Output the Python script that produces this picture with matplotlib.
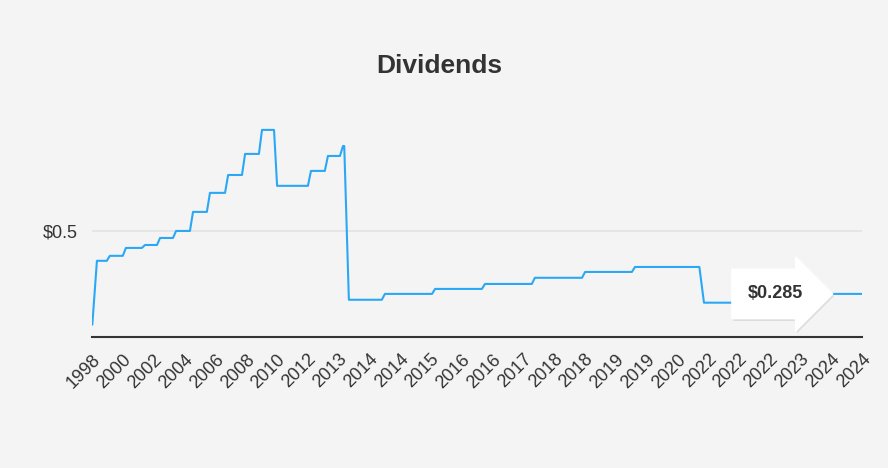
import matplotlib.pyplot as plt

plt.rcParams['font.family'] = ['Liberation Sans', 'DejaVu Sans']

labels = ["1998", "2000", "2002", "2004", "2006", "2008", "2010", "2012", "2013",
          "2014", "2014", "2015", "2016", "2016", "2017", "2018", "2018", "2019",
          "2019", "2020", "2022", "2022", "2022", "2023", "2024", "2024"]

# step start positions (category index units) and dividend values
step_x = [0.0, 0.16, 0.58, 1.10, 1.72, 2.21, 2.73, 3.28, 3.83, 4.42, 4.97, 5.52,
          6.01, 7.11, 7.66, 8.15, 8.34, 9.51, 11.14, 12.76, 14.38, 16.01, 17.63,
          19.87, 21.2, 25.0]
step_y = [0.18, 0.398, 0.415, 0.442, 0.452, 0.476, 0.50, 0.565, 0.63, 0.691, 0.763,
          0.845, 0.654, 0.705, 0.756, 0.79, 0.265, 0.285, 0.302, 0.319, 0.340,
          0.360, 0.377, 0.255, 0.285, 0.285]
last_value = 0.285

bg = "#f4f4f4"
fig = plt.figure(figsize=(8.88, 4.68), dpi=100, facecolor=bg)
ax = fig.add_axes([0.1036, 0.28, 0.8671, 0.485], facecolor=bg)

# build slightly sloped steps like the original
xs, ys = [], []
for i, (x, y) in enumerate(zip(step_x, step_y)):
    if i > 0:
        xs.append(x - (0.15 if i in (1, 16, 23) else 0.1))
        ys.append(step_y[i - 1])
    xs.append(x)
    ys.append(y)
ax.plot(xs, ys, color="#2aa8f5", lw=1.5)

ax.set_xlim(0, 25)
ax.set_ylim(0.138, 0.913)
ax.set_xticks(range(len(labels)))
ax.set_xticklabels(labels, rotation=45, ha="right", rotation_mode="anchor",
                   fontsize=13, color="#333333")
ax.set_yticks([0.5])
ax.set_yticklabels(["$0.5"], fontsize=13, color="#333333")
ax.tick_params(length=0, pad=10)
ax.axhline(0.5, color="#e2e2e2", lw=1.2, zorder=0)
for s in ["top", "right", "left"]:
    ax.spines[s].set_visible(False)
ax.spines["bottom"].set_color("#333333")
ax.spines["bottom"].set_linewidth(1.5)

fig.text(0.495, 0.86, "Dividends", ha="center", va="center", fontsize=19,
         fontweight="bold", color="#333333")

# tooltip with shadow
tip_x = 22.2
ax.annotate(f"${last_value}", xy=(tip_x + 0.04, last_value - 0.008), ha="center", va="center",
            fontsize=13, fontweight="bold", color="#bbbbbb", zorder=4,
            bbox=dict(boxstyle="rarrow,pad=0.9", fc="#cfcfcf", ec="none", alpha=0.6))
ax.annotate(f"${last_value}", xy=(tip_x, last_value), ha="center", va="center",
            fontsize=13, fontweight="bold", color="#333333", zorder=5,
            bbox=dict(boxstyle="rarrow,pad=0.9", fc="white", ec="white"))

fig.savefig("out.png", dpi=100, facecolor=bg)
